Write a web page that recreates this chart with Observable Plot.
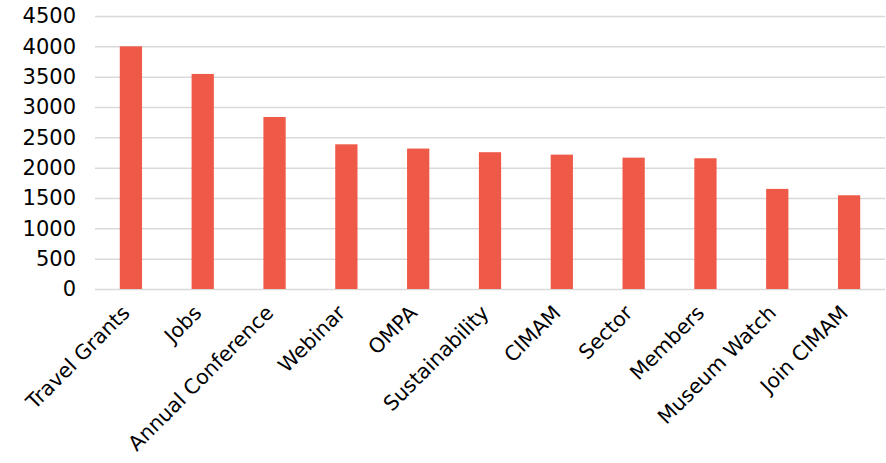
<!DOCTYPE html>
<html><head><meta charset="utf-8">
<script src="https://cdn.jsdelivr.net/npm/d3@7"></script>
<script src="https://cdn.jsdelivr.net/npm/@observablehq/plot@0.6"></script>
<style>body{margin:0;background:#fff}</style>
</head><body><div id="chart"></div>
<script>
const categories = ["Travel Grants","Jobs","Annual Conference","Webinar","OMPA","Sustainability","CIMAM","Sector","Members","Museum Watch","Join CIMAM"];
const values = [4000,3545,2835,2385,2315,2255,2215,2165,2155,1650,1545];
const yTicks = [0,500,1000,1500,2000,2500,3000,3500,4000,4500];
const data = categories.map((c,i)=>({category:c, value:values[i]}));
const chart = Plot.plot({
  width:886, height:463, marginLeft:95, marginRight:1, marginTop:16, marginBottom:174,
  style:{fontFamily:"'DejaVu Sans', sans-serif", fontSize:"21px", color:"#000", background:"#fff"},
  x:{domain:categories, paddingInner:0.69, paddingOuter:0.345, round:false, label:null},
  y:{domain:[0,4500], label:null},
  marks:[
    Plot.gridY(yTicks,{stroke:"#d9d9d9", strokeOpacity:1, strokeWidth:1.5}),
    Plot.barY(data,{x:"category", y:"value", fill:"#EF5A48"}),
    Plot.axisY(yTicks,{tickSize:0, tickPadding:19.5, tickFormat:"d", fontSize:21, label:null, style:"letter-spacing:1.5px", fill:"#000"}),
    Plot.axisX({tickRotate:-45, tickSize:0, tickPadding:20, dx:-5, fontSize:20.5, label:null, fill:"#000"})
  ]
});
document.getElementById("chart").appendChild(chart);
</script>
</body></html>
